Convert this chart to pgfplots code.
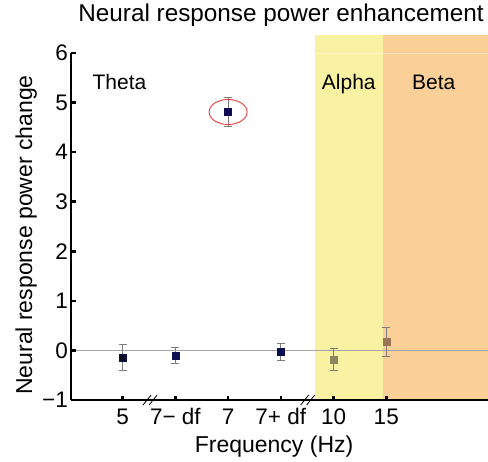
\documentclass[border=0pt]{standalone}
\usepackage{fontspec}
\setmainfont{Liberation Sans}
\usepackage{pgfplots}
\pgfplotsset{compat=1.18}
\definecolor{navy}{RGB}{12,12,82}
\definecolor{darkpt}{RGB}{14,14,30}
\definecolor{olivept}{RGB}{138,135,100}
\definecolor{brownpt}{RGB}{150,118,85}
\definecolor{bandyellow}{RGB}{249,242,162}
\definecolor{bandorange}{RGB}{250,208,152}
\definecolor{errgray}{RGB}{125,125,125}
\definecolor{zerogray}{RGB}{165,165,165}
\definecolor{ellred}{RGB}{232,60,60}
\begin{document}
\begin{tikzpicture}
\begin{axis}[name=ax,
  scale only axis, width=417pt, height=347pt,
  xmin=-0.98, xmax=6.93, ymin=-1, ymax=6,
  axis x line*=bottom, axis y line*=left,
  axis line style={line width=2.5pt, black},
  xtick={0,1,2,3,4,5},
  xticklabels={5,7− df,7,7+ df,10,15},
  ytick={-1,0,1,2,3,4,5,6},
  yticklabels={−1,0,1,2,3,4,5,6},
  tick align=inside, major tick length=4.5pt,
  tick style={line width=2.5pt, black},
  ticklabel style={font=\fontsize{22.5}{22.5}\selectfont},
  xticklabel style={anchor=base, yshift=-24pt, inner sep=0pt},
  yticklabel style={anchor=east, inner sep=3pt},
  clip=false, axis on top,
  title={Neural response power enhancement},
  title style={font=\fontsize{24.3}{24.3}\selectfont, at={(axis description cs:0.5036,1.0735)}, anchor=base},
  xlabel={Frequency (Hz)},
  xlabel style={font=\fontsize{23}{23}\selectfont, at={(axis description cs:0.487,-0.1527)}, anchor=base},
  ylabel={Neural response power change},
  ylabel style={font=\fontsize{23}{23}\selectfont, at={(axis description cs:-0.0935,0.4755)}, anchor=base, rotate=0},
]
% frequency bands
\fill[bandyellow] (axis cs:3.65,-1) rectangle (axis cs:4.93,6.36);
\fill[bandorange] (axis cs:4.93,-1) rectangle (axis cs:6.93,6.36);
\draw[white, opacity=0.35, line width=0.8pt] (axis cs:3.65,6) -- (axis cs:6.93,6);
% zero line
\draw[zerogray, line width=1pt] (axis cs:-0.98,0) -- (axis cs:6.93,0);
% band labels
\node[font=\fontsize{21}{21}\selectfont, anchor=base] at (axis cs:-0.06,5.264) {Theta};
\node[font=\fontsize{21}{21}\selectfont, anchor=base] at (axis cs:4.29,5.264) {Alpha};
\node[font=\fontsize{21}{21}\selectfont, anchor=base] at (axis cs:5.90,5.264) {Beta};
% data
\pgfplotsset{errstyle/.style={only marks, mark=square*, mark size=3.5pt,
   error bars/.cd, y dir=both, y explicit,
   error bar style={errgray, line width=0.9pt},
   error mark options={rotate=90, mark size=4pt, errgray, line width=0.9pt}}}
\addplot[mark options={fill=darkpt, draw=navy}, errstyle] coordinates {(0,-0.14) +- (0,0.26)};
\addplot[mark options={fill=navy, draw=navy}, errstyle] coordinates {
  (1,-0.10) +- (0,0.165)
  (2,4.81) +- (0,0.295)
  (3,-0.03) +- (0,0.165)
};
\addplot[mark options={fill=olivept, draw=olivept}, errstyle] coordinates {(4,-0.18) +- (0,0.225)};
\addplot[mark options={fill=brownpt, draw=brownpt}, errstyle] coordinates {(5,0.17) +- (0,0.29)};
% highlight
\draw[ellred, line width=0.9pt] (axis cs:2,4.81) ellipse [x radius=19pt, y radius=12.5pt];
% axis breaks
\fill[white] ([shift={(-7pt,-5pt)}]axis cs:0.52,-1) -- ([shift={(-1pt,-5pt)}]axis cs:0.52,-1)
   -- ([shift={(7pt,5pt)}]axis cs:0.52,-1) -- ([shift={(1pt,5pt)}]axis cs:0.52,-1) -- cycle;
\draw[black, line width=0.8pt] ([shift={(-7pt,-5pt)}]axis cs:0.52,-1) -- ([shift={(1pt,5pt)}]axis cs:0.52,-1);
\draw[black, line width=0.8pt] ([shift={(-1pt,-5pt)}]axis cs:0.52,-1) -- ([shift={(7pt,5pt)}]axis cs:0.52,-1);
\fill[white] ([shift={(-7pt,-5pt)}]axis cs:3.51,-1) -- ([shift={(-1pt,-5pt)}]axis cs:3.51,-1)
   -- ([shift={(7pt,5pt)}]axis cs:3.51,-1) -- ([shift={(1pt,5pt)}]axis cs:3.51,-1) -- cycle;
\draw[black, line width=0.8pt] ([shift={(-7pt,-5pt)}]axis cs:3.51,-1) -- ([shift={(1pt,5pt)}]axis cs:3.51,-1);
\draw[black, line width=0.8pt] ([shift={(-1pt,-5pt)}]axis cs:3.51,-1) -- ([shift={(7pt,5pt)}]axis cs:3.51,-1);
\end{axis}
\pgfresetboundingbox
\path ([shift={(-71pt,-61pt)}]ax.south west) rectangle ([shift={(0pt,53pt)}]ax.north east);
\end{tikzpicture}
\end{document}
